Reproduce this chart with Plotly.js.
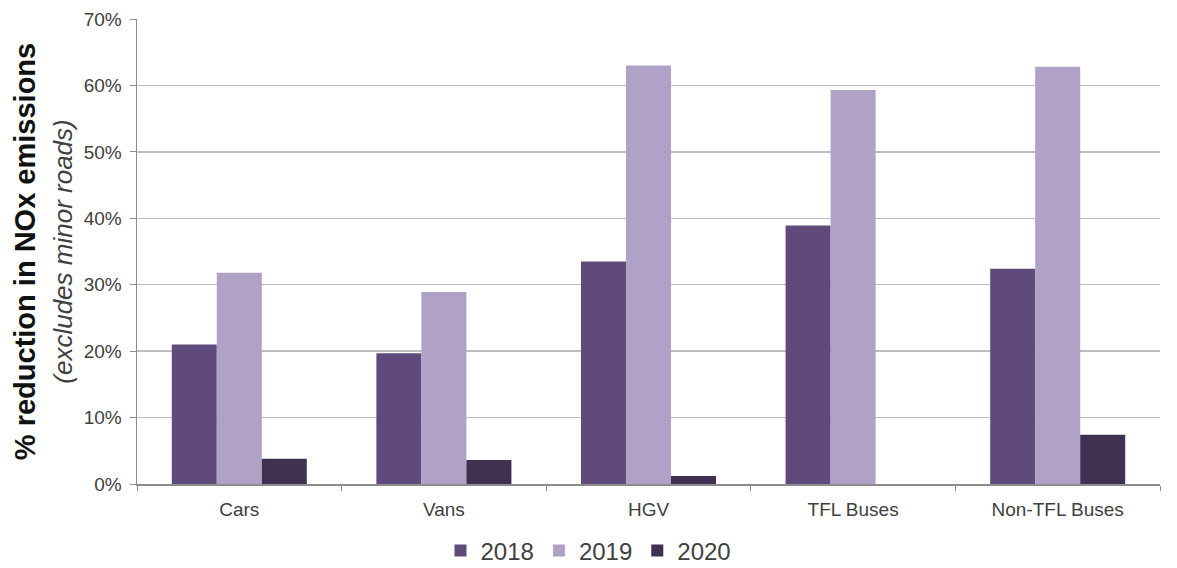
<!DOCTYPE html>
<html>
<head>
<meta charset="utf-8">
<script src="https://cdn.plot.ly/plotly-3.0.1.min.js"></script>
<style>html,body{margin:0;padding:0;background:#fff;}#chart{width:1177px;height:568px;}</style>
</head>
<body>
<div id="chart"></div>
<script>
const categories = ["Cars", "Vans", "HGV", "TFL Buses", "Non-TFL Buses"];
const values2018 = [0.21, 0.197, 0.335, 0.389, 0.324];
const values2019 = [0.318, 0.289, 0.63, 0.593, 0.628];
const values2020 = [0.038, 0.036, 0.012, 0, 0.074];
const seriesNames = ["2018", "2019", "2020"];
const seriesColors = ["#5F4A7B", "#B0A1C6", "#403152"];
const yTickVals = [0, 0.1, 0.2, 0.3, 0.4, 0.5, 0.6, 0.7];
const yTickText = ["0%", "10%", "20%", "30%", "40%", "50%", "60%", "70%"];

const allValues = [values2018, values2019, values2020];
const traces = allValues.map((v, i) => ({
  type: "bar",
  name: seriesNames[i],
  x: categories,
  y: v,
  marker: {color: seriesColors[i], line: {width: 0}},
  hoverinfo: "x+y+name"
}));

const layout = {
  width: 1177, height: 568,
  margin: {l: 137, r: 17, t: 19, b: 84},
  paper_bgcolor: "#fff", plot_bgcolor: "#fff",
  barmode: "group",
  bargap: 0.34,
  bargroupgap: 0,
  font: {family: "Liberation Sans, Arial, sans-serif", color: "#404040"},
  xaxis: {
    type: "category",
    showline: true, linecolor: "#8c8c8c", linewidth: 1.5,
    ticks: "outside", tickson: "boundaries", ticklen: 5, tickcolor: "#8c8c8c",
    tickfont: {size: 19, color: "#404040"},
    ticklabelstandoff: 8,
    showgrid: false
  },
  yaxis: {
    range: [0, 0.7],
    tickvals: yTickVals, ticktext: yTickText,
    showline: true, linecolor: "#8c8c8c", linewidth: 1.5,
    ticks: "outside", ticklen: 6, tickcolor: "#8c8c8c",
    tickfont: {size: 19, color: "#404040"},
    ticklabelstandoff: 4,
    showgrid: true, gridcolor: "#bdbdbd", gridwidth: 1.5,
    zeroline: false,
    title: {
      text: "<b>% reduction in NOx emissions</b><br><i><span style='font-size:26px;color:#404040'>(excludes minor roads)</span></i>",
      font: {size: 29, color: "#111"},
      standoff: 2
    }
  },
  legend: {
    orientation: "h",
    xref: "container", yref: "container",
    x: 0.5, xanchor: "center",
    y: 0.03, yanchor: "middle",
    font: {size: 24, color: "#404040"},
    itemwidth: 30,
    tracegroupgap: 0
  },
  showlegend: true
};

Plotly.newPlot("chart", traces, layout, {displayModeBar: false, staticPlot: true});
</script>
</body>
</html>
